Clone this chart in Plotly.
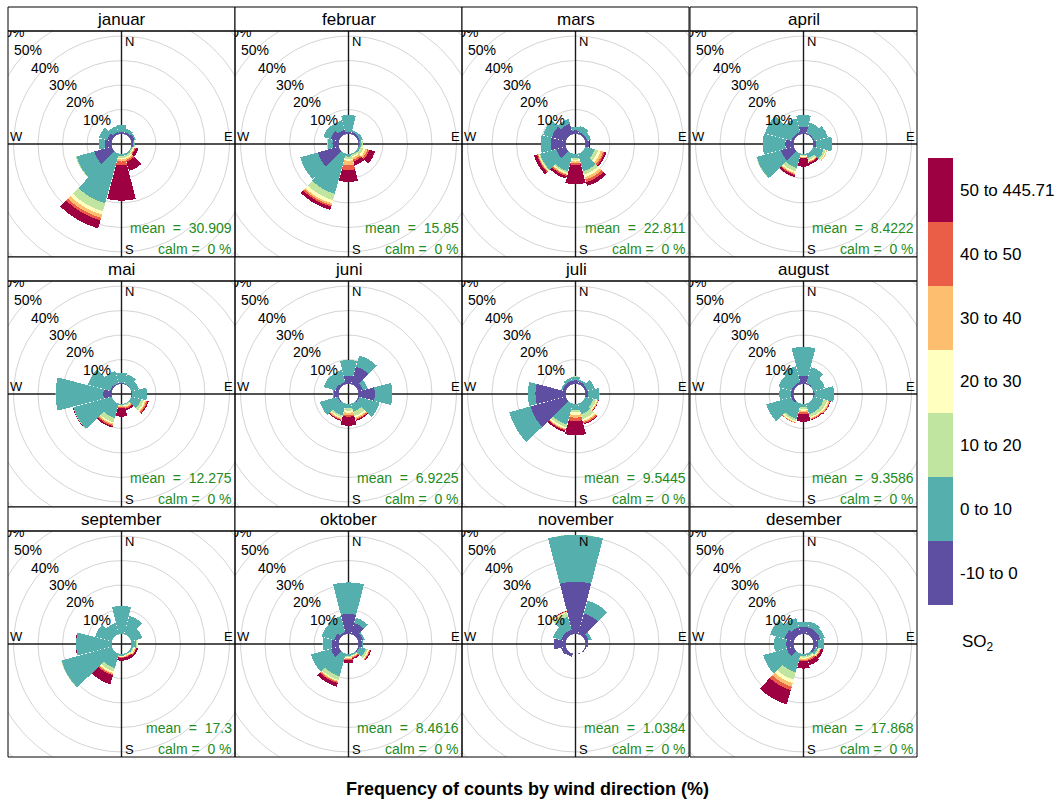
import plotly.graph_objects as go
import math

# ---------------- data ----------------
months = ["januar", "februar", "mars", "april", "mai", "juni",
          "juli", "august", "september", "oktober", "november", "desember"]
means = ["30.909", "15.85", "22.811", "8.4222", "12.275", "6.9225",
         "9.5445", "9.3586", "17.3", "8.4616", "1.0384", "17.868"]
calm = ["0", "0", "0", "0", "0", "0", "0", "0", "0", "0", "0", "0"]
directions = [0, 30, 60, 90, 120, 150, 180, 210, 240, 270, 300, 330]
classes = ["-10 to 0", "0 to 10", "10 to 20", "20 to 30", "30 to 40", "40 to 50", "50 to 445.71"]
class_colors = ["#5E4FA2", "#55AFAD", "#BFE5A0", "#FFFFBF", "#FDBF6F", "#EA5D47", "#9E0142"]
ring_values = [10, 20, 30, 40, 50, 60]

# frequency (%) per class (rows) and direction (columns)
januar = [
    [0.8, 1.0, 1.5, 0.8, 0, 0, 0, 0, 7.5, 2.7, 2.0, 1.0],
    [2.9, 1.5, 0.5, 0.5, 0.5, 0.8, 1.0, 21.1, 7.5, 2.5, 3.5, 2.5],
    [0, 0, 0, 0.2, 0.5, 0.8, 0.8, 3.3, 0.3, 0, 0, 0],
    [0, 0, 0, 0, 0.3, 0.5, 0.5, 1.4, 0, 0, 0, 0],
    [0, 0, 0, 0, 0.3, 0.6, 0.8, 1.4, 0, 0, 0, 0],
    [0, 0, 0, 0, 0.4, 0.7, 1.5, 1.1, 0, 0, 0, 0],
    [0, 0, 0, 0, 1.2, 4.0, 14.5, 3.4, 0, 0, 0, 0],
]
februar = [
    [1.0, 1.0, 0.8, 0.5, 0, 0, 0, 0, 8.9, 2.5, 3.5, 2.0],
    [6.8, 0.8, 1.2, 0.8, 1.0, 0.5, 1.1, 17.0, 7.5, 2.0, 3.0, 4.0],
    [0, 0, 0, 0.5, 1.2, 0.7, 1.0, 2.7, 0, 0.3, 0, 0],
    [0, 0, 0, 0.2, 1.0, 0.6, 0.7, 1.4, 0, 0, 0, 0],
    [0, 0, 0, 0, 0.8, 0.8, 1.8, 0.7, 0, 0, 0, 0],
    [0, 0, 0, 0, 0.8, 0.8, 2.0, 0.7, 0, 0, 0, 0],
    [0, 0, 0, 0, 2.4, 1.7, 4.8, 1.4, 0, 0, 0, 0],
]
mars = [
    [1.5, 1.0, 1.0, 1.5, 0, 0, 0, 0, 4.1, 6.1, 6.0, 4.5],
    [1.5, 2.5, 1.5, 0, 4.1, 7.5, 1.7, 7.5, 6.8, 4.1, 3.7, 2.0],
    [0, 0, 0, 0, 1.4, 1.4, 0.7, 0.7, 0.4, 0, 0, 0],
    [0, 0, 0, 0, 1.1, 1.1, 0.7, 0.4, 0.3, 0, 0, 0],
    [0, 0, 0, 0, 1.0, 1.0, 0.7, 0.4, 0.3, 0, 0, 0],
    [0, 0, 0, 0, 0.7, 1.1, 0.7, 0.5, 0.4, 0, 0, 0],
    [0, 0, 0, 0.4, 0.7, 1.6, 7.9, 1.1, 1.2, 0, 0, 0],
]
april = [
    [3.0, 0.5, 0.5, 1.0, 0, 0, 0, 0, 5.5, 3.4, 1.0, 1.0],
    [4.8, 4.5, 5.8, 6.7, 4.5, 2.0, 0.4, 6.2, 10.3, 9.2, 11.2, 5.8],
    [0, 0, 0, 0, 0.8, 0.8, 0.4, 1.4, 0.2, 0, 0, 0],
    [0, 0, 0, 0, 0.4, 0.5, 0.5, 0.7, 0, 0, 0, 0],
    [0, 0, 0, 0, 0.3, 0.3, 0.3, 0.4, 0, 0, 0, 0],
    [0, 0, 0, 0, 0, 0.3, 0.2, 0.4, 0, 0, 0, 0],
    [0, 0, 0, 0, 0, 0.8, 3.4, 0.8, 0, 0, 0, 0],
]
mai = [
    [0.5, 0.3, 0, 0.3, 0, 0, 0, 0, 0, 3.4, 0.8, 0.5],
    [4.2, 4.0, 3.3, 6.1, 4.2, 0.4, 0.4, 6.2, 16.2, 19.5, 9.3, 5.2],
    [0, 0, 0, 0, 1.2, 0.5, 0.3, 1.8, 0.2, 0, 0, 0],
    [0, 0, 0, 0, 0.6, 0.4, 0.3, 0.5, 0, 0, 0, 0],
    [0, 0, 0, 0, 0.5, 0.5, 0.3, 0.5, 0, 0, 0, 0],
    [0, 0, 0, 0, 0.4, 0.4, 0.4, 0.5, 0, 0, 0, 0],
    [0, 0, 0, 0, 0.5, 0.7, 3.5, 0.7, 0.2, 0, 0, 0],
]
juni = [
    [3.4, 7.5, 2.0, 6.8, 0.5, 0, 0, 0, 0.5, 2.0, 1.5, 1.0],
    [6.4, 4.8, 2.1, 7.1, 8.7, 3.4, 1.8, 5.0, 7.6, 0.5, 4.9, 5.2],
    [0.2, 0, 0, 0, 0, 1.8, 1.0, 0.8, 0, 0, 0, 0],
    [0, 0, 0, 0, 0, 0.8, 0.8, 0.5, 0, 0, 0, 0],
    [0, 0, 0, 0, 0, 0.5, 1.0, 0.4, 0, 0, 0, 0],
    [0, 0, 0, 0, 0, 0.4, 0.6, 0.3, 0, 0, 0, 0],
    [0, 0, 0, 0, 0, 0.4, 3.7, 0.3, 0, 0, 0, 0],
]
juli = [
    [1.5, 1.2, 1.0, 1.0, 0, 0, 0, 0, 15.0, 12.3, 1.5, 1.5],
    [1.5, 0.8, 3.1, 4.8, 3.5, 4.5, 2.5, 8.9, 9.0, 3.1, 0.6, 1.3],
    [0.2, 0, 0, 0, 1.2, 2.0, 1.0, 1.1, 0, 0, 0, 0],
    [0, 0, 0, 0, 0.5, 0.8, 1.0, 0.7, 0, 0, 0, 0],
    [0, 0, 0, 0, 0.3, 0.6, 1.1, 0.3, 0, 0, 0, 0],
    [0, 0, 0, 0, 0.2, 0.5, 1.4, 0.4, 0, 0, 0, 0],
    [0, 0, 0, 0, 0.1, 0.4, 5.9, 0.7, 0, 0, 0, 0],
]
august = [
    [3.4, 0.5, 0, 0.5, 0, 0, 0, 0, 1.0, 1.0, 1.0, 1.0],
    [11.8, 6.8, 5.1, 8.0, 4.5, 4.5, 1.4, 6.5, 10.7, 4.9, 5.5, 6.7],
    [0, 0, 0, 0, 1.4, 1.2, 0.7, 0.8, 0, 0, 0, 0],
    [0, 0, 0, 0, 0.6, 0.5, 0.7, 0.5, 0, 0, 0, 0],
    [0, 0, 0, 0, 0.4, 0.3, 0.7, 0.3, 0, 0, 0, 0],
    [0, 0, 0, 0, 0.3, 0.3, 0.7, 0.2, 0, 0, 0, 0],
    [0, 0, 0, 0, 0.2, 0.3, 3.1, 0, 0, 0, 0, 0],
]
september = [
    [0, 0, 0, 0, 0, 0, 0, 0, 0, 0, 0, 0],
    [11.5, 7.9, 4.8, 2.0, 0.8, 0.5, 0.8, 6.2, 21.3, 14.5, 7.1, 4.9],
    [0, 0, 0, 0.4, 0.4, 0.3, 0.2, 1.4, 0.2, 0, 0, 0],
    [0, 0, 0, 0.4, 0.5, 0.3, 0.2, 0.7, 0, 0, 0, 0],
    [0, 0, 0, 0, 0.4, 0.3, 0.2, 0.4, 0, 0, 0, 0],
    [0, 0, 0, 0, 0.2, 0.3, 0.2, 0.5, 0, 0, 0, 0],
    [0, 0, 0, 0, 0.7, 1.2, 1.2, 3.8, 0, 0.2, 0, 0],
]
oktober = [
    [8.2, 4.8, 2.0, 1.5, 0.5, 0, 0, 0, 3.4, 2.8, 2.0, 1.0],
    [12.9, 2.3, 0.8, 0.6, 2.8, 0.6, 1.0, 9.6, 8.5, 3.8, 5.3, 6.7],
    [0, 0, 0, 0, 0.8, 0.3, 0.4, 1.6, 0, 0, 0, 0],
    [0, 0, 0, 0, 0.5, 0.3, 0.4, 0.4, 0, 0, 0, 0],
    [0, 0, 0, 0, 0.3, 0.3, 0.4, 0.4, 0, 0, 0, 0],
    [0, 0, 0, 0, 0.3, 0.4, 0.4, 0.5, 0, 0, 0, 0],
    [0, 0, 0, 0, 0.4, 0.5, 1.1, 1.5, 0, 0, 0, 0],
]
november = [
    [21.4, 8.9, 1.5, 1.0, 0.5, 0.2, 0.1, 1.4, 2.0, 4.8, 2.0, 2.0],
    [19.1, 5.4, 1.3, 0, 0, 0, 0, 0, 0, 0, 3.5, 5.5],
    [0.1, 0, 0, 0, 0, 0, 0.1, 0, 0, 0, 0, 1.6],
    [0, 0, 0, 0, 0, 0, 0, 0, 0, 0, 0, 0.3],
    [0, 0, 0, 0, 0, 0, 0, 0, 0, 0, 0, 0.2],
    [0, 0, 0, 0, 0, 0, 0, 0, 0, 0, 0, 0.2],
    [0, 0, 0, 0, 0, 0, 0, 0, 0, 0, 0, 0.1],
]
desember = [
    [3.0, 3.0, 3.0, 2.0, 1.0, 0, 0, 0, 3.0, 3.0, 4.0, 3.0],
    [2.0, 2.5, 2.0, 2.5, 1.0, 1.0, 1.0, 8.0, 10.0, 5.0, 6.0, 4.0],
    [0, 0, 0, 0, 0.5, 0.5, 0.5, 3.0, 0, 0, 0, 0],
    [0, 0, 0, 0, 0.3, 0.5, 0.5, 1.5, 0, 0, 0, 0],
    [0, 0, 0, 0, 0.3, 0.5, 0.5, 1.5, 0, 0, 0, 0],
    [0, 0, 0, 0, 0.3, 0.5, 0.5, 1.5, 0, 0, 0, 0],
    [0, 0, 0, 0, 1.0, 2.0, 3.0, 6.0, 0, 0, 0, 0],
]
month_data = [januar, februar, mars, april, mai, juni, juli, august,
              september, oktober, november, desember]

# ---------------- layout geometry (pixels) ----------------
W, H = 1062, 802
col_left = [8, 235, 462, 690]
PW = 227
row_top = [31, 281, 531]
PH = 226
STRIP = 24
K = 2.45          # pixels per percent
OFF = 4.05        # hole size in percent units
FONT = "Liberation Sans, Arial, sans-serif"
GREEN = "#228B22"


def fx(px):
    return px / W


def fy(py):
    return 1 - py / H


fig = go.Figure()
annotations = []
shapes = []
layout_upd = {}

for i, month in enumerate(months):
    r, c = divmod(i, 4)
    L, T = col_left[c], row_top[r]
    idx = i + 1
    sfx = "" if idx == 1 else str(idx)
    dom_x = [fx(L), fx(L + PW)]
    dom_y = [fy(T + PH), fy(T)]
    xr = PW / 2 / K
    yr = PH / 2 / K

    # cartesian underlay: grid rings and compass cross
    layout_upd["xaxis" + sfx] = dict(domain=dom_x, range=[-xr, xr], visible=False,
                                     fixedrange=True, anchor="y" + sfx)
    layout_upd["yaxis" + sfx] = dict(domain=dom_y, range=[-yr, yr], visible=False,
                                     fixedrange=True, anchor="x" + sfx)
    rx, ry = [], []
    for v in ring_values:
        rad = OFF + v
        for a in range(0, 361, 2):
            rx.append(rad * math.cos(math.radians(a)))
            ry.append(rad * math.sin(math.radians(a)))
        rx.append(None)
        ry.append(None)
    fig.add_trace(go.Scatter(x=rx, y=ry, mode="lines", xaxis="x" + sfx, yaxis="y" + sfx,
                             line=dict(color="#d4d4d4", width=1), hoverinfo="skip",
                             showlegend=False))
    fig.add_trace(go.Scatter(x=[-xr, xr, None, 0, 0], y=[0, 0, None, -yr, yr], mode="lines",
                             xaxis="x" + sfx, yaxis="y" + sfx,
                             line=dict(color="#1a1a1a", width=1.4), hoverinfo="skip",
                             showlegend=False))
    # outermost label (clipped by the panel)
    rad6 = OFF + ring_values[-1]
    fig.add_trace(go.Scatter(x=[-rad6 * 0.7071], y=[rad6 * 0.7071], mode="text",
                             text=[f"{ring_values[-1]}%"], xaxis="x" + sfx, yaxis="y" + sfx,
                             textfont=dict(family=FONT, size=14, color="black"),
                             cliponaxis=True, hoverinfo="skip", showlegend=False))

    # polar rose
    Rpx = min(PW, PH) / 2
    hole = OFF * K / Rpx
    rmax = (Rpx - OFF * K) / K
    layout_upd["polar" + sfx] = dict(
        domain=dict(x=dom_x, y=dom_y), hole=hole, bgcolor="rgba(0,0,0,0)", barmode="stack",
        radialaxis=dict(range=[0, rmax], visible=False, showgrid=False),
        angularaxis=dict(direction="clockwise", rotation=90, visible=False, showgrid=False),
    )
    data = month_data[i]
    for k_cls, cls in enumerate(classes):
        fig.add_trace(go.Barpolar(r=data[k_cls], theta=directions, width=29.2,
                                  marker=dict(color=class_colors[k_cls], line=dict(width=0)),
                                  subplot="polar" + sfx, name=cls, showlegend=False,
                                  hoverinfo="skip"))

    # percent labels
    for v in ring_values[:-1]:
        rad = OFF + v
        annotations.append(dict(x=-rad * 0.7071, y=rad * 0.7071, xref="x" + sfx, yref="y" + sfx,
                                text=f"{v}%", showarrow=False,
                                font=dict(family=FONT, size=14, color="black")))
    # compass labels
    annotations += [
        dict(x=0, y=yr, xref="x" + sfx, yref="y" + sfx, text="N", xanchor="left", yanchor="top",
             showarrow=False, xshift=1, yshift=-1, font=dict(family=FONT, size=13, color="black")),
        dict(x=0, y=-yr, xref="x" + sfx, yref="y" + sfx, text="S", xanchor="left", yanchor="bottom",
             showarrow=False, xshift=1, yshift=-2, font=dict(family=FONT, size=13, color="black")),
        dict(x=xr, y=0, xref="x" + sfx, yref="y" + sfx, text="E", xanchor="right", yanchor="bottom",
             showarrow=False, xshift=0, yshift=-2, font=dict(family=FONT, size=13, color="black")),
        dict(x=-xr, y=0, xref="x" + sfx, yref="y" + sfx, text="W", xanchor="left", yanchor="bottom",
             showarrow=False, xshift=0, yshift=-2, font=dict(family=FONT, size=13, color="black")),
    ]
    # mean / calm
    annotations.append(dict(x=fx(L + PW - 1), y=fy(T + 197), xref="paper", yref="paper",
                            text=f"mean\u00a0\u00a0=\u00a0\u00a0{means[i]}", xanchor="right",
                            yanchor="middle", showarrow=False,
                            font=dict(family=FONT, size=14, color=GREEN)))
    annotations.append(dict(x=fx(L + PW - 1), y=fy(T + 218), xref="paper", yref="paper",
                            text=f"calm\u00a0=\u00a0\u00a0{calm[i]}\u00a0%", xanchor="right",
                            yanchor="middle", showarrow=False,
                            font=dict(family=FONT, size=14, color=GREEN)))
    # strip + panel boxes
    shapes.append(dict(type="rect", xref="paper", yref="paper", x0=fx(L), x1=fx(L + PW),
                       y0=fy(T), y1=fy(T - STRIP), line=dict(color="black", width=1),
                       fillcolor="white", layer="above"))
    shapes.append(dict(type="rect", xref="paper", yref="paper", x0=fx(L), x1=fx(L + PW),
                       y0=fy(T + PH), y1=fy(T), line=dict(color="black", width=1),
                       layer="above"))
    annotations.append(dict(x=fx(L + PW / 2), y=fy(T - STRIP / 2), xref="paper", yref="paper",
                            text=month, showarrow=False, xanchor="center", yanchor="middle",
                            font=dict(family=FONT, size=17, color="black")))

# ---------------- colour key ----------------
kx0, kx1, ky0, ky1 = 928, 953, 158, 605
for k_cls, cls in enumerate(classes):
    fig.add_trace(go.Bar(x=[0], y=[1], width=[1], marker=dict(color=class_colors[k_cls], line=dict(width=0)),
                         xaxis="x13", yaxis="y13", showlegend=False, hoverinfo="skip", name=cls))
layout_upd["xaxis13"] = dict(domain=[fx(kx0), fx(kx1)], range=[-0.5, 0.5], visible=False,
                             fixedrange=True, anchor="y13")
layout_upd["yaxis13"] = dict(domain=[fy(ky1), fy(ky0)], range=[0, len(classes)], side="right",
                             anchor="x13", tickvals=[j + 0.5 for j in range(len(classes))],
                             ticktext=classes, showgrid=False, zeroline=False, showline=False,
                             ticks="", ticklabelstandoff=6, fixedrange=True,
                             tickfont=dict(family=FONT, size=17, color="black"))
annotations.append(dict(x=fx(960), y=fy(643), xref="paper", yref="paper", text="SO<sub>2</sub>",
                        xanchor="left", yanchor="middle", showarrow=False,
                        font=dict(family=FONT, size=17, color="black")))
annotations.append(dict(x=fx(527), y=fy(789), xref="paper", yref="paper",
                        text="<b>Frequency of counts by wind direction (%)</b>", xanchor="center",
                        yanchor="middle", showarrow=False,
                        font=dict(family=FONT, size=18, color="black")))

fig.update_layout(**layout_upd)
fig.update_layout(width=W, height=H, margin=dict(l=0, r=0, t=0, b=0, pad=0),
                  paper_bgcolor="white", plot_bgcolor="white", barmode="stack",
                  showlegend=False, annotations=annotations, shapes=shapes)
fig.write_html("out.html", config={"displayModeBar": False, "staticPlot": True},
               post_script="document.body.style.margin='0px';"
                           "document.body.style.padding='0px';"
                           "document.documentElement.style.overflow='hidden';")
